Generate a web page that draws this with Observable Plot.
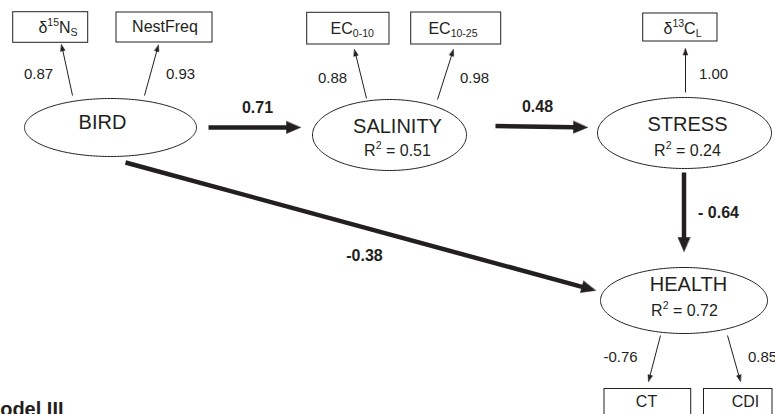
<!DOCTYPE html>
<html><head><meta charset="utf-8">
<script src="https://cdn.jsdelivr.net/npm/d3@7"></script>
<script src="https://cdn.jsdelivr.net/npm/@observablehq/plot@0.6"></script>
<style>
html,body{margin:0;padding:0;background:#fff;}
#chart{width:775px;height:414px;overflow:hidden;}
</style>
</head><body><div id="chart"></div>
<script>
// ---------- DATA ----------
const latentNames = ["BIRD", "SALINITY", "STRESS", "HEALTH"];
const latentR2 = [null, 0.51, 0.24, 0.72];
const indicatorNames = ["δ^{15}N_{S}", "NestFreq", "EC_{0-10}", "EC_{10-25}", "δ^{13}C_{L}", "CT", "CDI"];
const indicatorOf = ["BIRD", "BIRD", "SALINITY", "SALINITY", "STRESS", "HEALTH", "HEALTH"];
const loadings = [0.87, 0.93, 0.88, 0.98, 1.00, -0.76, 0.85];
const pathFrom = ["BIRD", "SALINITY", "STRESS", "BIRD"];
const pathTo = ["SALINITY", "STRESS", "HEALTH", "HEALTH"];
const pathCoef = [0.71, 0.48, -0.64, -0.38];
const pathLabels = ["0.71", "0.48", "- 0.64", "-0.38"];
const modelTitle = "Model III";

// ---------- LAYOUT (diagram positions) ----------
const nodeLayout = {
  BIRD:     {cx: 110,   cy: 127,   rx: 86,   ry: 29,   tx: 102, ty: 122},
  SALINITY: {cx: 389,   cy: 134.5, rx: 77,   ry: 35.5, tx: 397, ty: 126, r2x: 397, r2y: 150},
  STRESS:   {cx: 684,   cy: 132.5, rx: 87,   ry: 35.5, tx: 687, ty: 124, r2x: 687, r2y: 150},
  HEALTH:   {cx: 683.5, cy: 300,   rx: 83.5, ry: 33,   tx: 688, ty: 284, r2x: 684, r2y: 310}
};
const boxLayout = [
  {x1: 12.7, x2: 87.7, y1: 11.7, y2: 42.3, tx: 57.5, ty: 27,  a: [72, 95, 61, 44],    l: [38, 73.5]},
  {x1: 116,  x2: 212,  y1: 12,   y2: 42,   tx: 164.5, ty: 26, a: [144, 95, 158, 44.5], l: [180, 73.5]},
  {x1: 306.7,x2: 389,  y1: 12.3, y2: 44,   tx: 351.7, ty: 28.3, a: [366, 98, 354, 49], l: [332, 78]},
  {x1: 410.7,x2: 500.7,y1: 12,   y2: 44,   tx: 452.5, ty: 28.3, a: [437, 99, 453, 49], l: [474, 78]},
  {x1: 642.7,x2: 717,  y1: 13,   y2: 41,   tx: 682, ty: 28,   a: [685, 92, 685, 48],   l: [713, 74]},
  {x1: 604,  x2: 690.7,y1: 388.5,y2: 440,  tx: 646, ty: 401,  a: [660, 335, 648, 381], l: [620, 357]},
  {x1: 703.5,x2: 772,  y1: 388.5,y2: 440,  tx: 745, ty: 401,  a: [727, 335, 740, 381], l: [762, 357]}
];
const pathLayout = [
  {a: [208, 127, 300, 127],     l: [257, 107]},
  {a: [495, 125.5, 587, 127],   l: [537, 106]},
  {a: [683.5, 172, 683.5, 251], l: [718, 212]},
  {a: [125, 162, 595, 290],     l: [364, 255]}
];
const titleLayout = {x: -17, y: 409};

const INK = "#231f20";
const FONT = "'Liberation Sans', Arial, Helvetica, sans-serif";

// ---------- derived geometry ----------
const ellipsePts = latentNames.flatMap(id => {
  const n = nodeLayout[id];
  return d3.range(0, 360, 2).map(deg => {
    const t = deg * Math.PI / 180;
    return {id, x: n.cx + n.rx * Math.cos(t), y: n.cy + n.ry * Math.sin(t)};
  });
});

function arrowParts(id, [x1, y1, x2, y2], L, W) {
  const dx = x2 - x1, dy = y2 - y1, len = Math.hypot(dx, dy);
  const ux = dx / len, uy = dy / len, nx = -uy, ny = ux;
  const bx = x2 - L * ux, by = y2 - L * uy;
  return {
    shaft: {id, x1, y1, x2: x2 - (L - 1) * ux, y2: y2 - (L - 1) * uy},
    head: [
      {id, x: x2, y: y2},
      {id, x: bx + nx * W / 2, y: by + ny * W / 2},
      {id, x: bx - nx * W / 2, y: by - ny * W / 2}
    ]
  };
}
const thinArrows = indicatorNames.map((d, i) => arrowParts("L" + i, boxLayout[i].a, 6.5, 4.5));
const thickArrows = pathFrom.map((d, i) => arrowParts("P" + i, pathLayout[i].a, 14, 12));

const r2Nodes = latentNames.map((d, i) => ({id: d, r2: latentR2[i]})).filter(d => d.r2 != null);

const plot = Plot.plot({
  width: 775, height: 414,
  margin: 0, marginTop: 0, marginRight: 0, marginBottom: 0, marginLeft: 0,
  x: {domain: [0, 775], range: [0, 775], axis: null},
  y: {domain: [0, 414], range: [0, 414], axis: null},
  style: {fontFamily: FONT, background: "white", color: INK},
  marks: [
    Plot.rect(indicatorNames, {
      x1: (d, i) => boxLayout[i].x1, x2: (d, i) => boxLayout[i].x2,
      y1: (d, i) => boxLayout[i].y1, y2: (d, i) => boxLayout[i].y2,
      fill: "white", stroke: INK, strokeWidth: 1
    }),
    Plot.line(ellipsePts, {x: "x", y: "y", z: "id", curve: "linear-closed", fill: "white", stroke: INK, strokeWidth: 1}),
    Plot.link(thinArrows.map(d => d.shaft), {x1: "x1", y1: "y1", x2: "x2", y2: "y2", stroke: INK, strokeWidth: 1}),
    Plot.line(thinArrows.flatMap(d => d.head), {x: "x", y: "y", z: "id", curve: "linear-closed", fill: INK, stroke: INK, strokeWidth: 0.5}),
    Plot.link(thickArrows.map(d => d.shaft), {x1: "x1", y1: "y1", x2: "x2", y2: "y2", stroke: INK, strokeWidth: 4.5}),
    Plot.line(thickArrows.flatMap(d => d.head), {x: "x", y: "y", z: "id", curve: "linear-closed", fill: INK, stroke: INK, strokeWidth: 0.5}),
    Plot.text(latentNames, {x: d => nodeLayout[d].tx, y: d => nodeLayout[d].ty, text: d => d, fontSize: 20, fill: INK}),
    Plot.text(r2Nodes, {x: d => nodeLayout[d.id].r2x, y: d => nodeLayout[d.id].r2y, text: d => `R^{2} = ${d.r2.toFixed(2)}`, fontSize: 16, fill: INK}),
    Plot.text(indicatorNames, {x: (d, i) => boxLayout[i].tx, y: (d, i) => boxLayout[i].ty, text: d => d, fontSize: 16, fill: INK}),
    Plot.text(loadings, {x: (d, i) => boxLayout[i].l[0], y: (d, i) => boxLayout[i].l[1], text: d => d.toFixed(2), fontSize: 15, fill: INK}),
    Plot.text(pathCoef, {x: (d, i) => pathLayout[i].l[0], y: (d, i) => pathLayout[i].l[1], text: (d, i) => pathLabels[i], fontSize: 16, fontWeight: "bold", fill: INK}),
    Plot.text([modelTitle], {x: () => titleLayout.x, y: () => titleLayout.y, text: d => d, fontSize: 20, fontWeight: "bold", textAnchor: "start", fill: INK})
  ]
});
document.getElementById("chart").appendChild(plot);

// rich text: turn ^{..} and _{..} into real super/subscript tspans
const NS = "http://www.w3.org/2000/svg";
plot.querySelectorAll("text").forEach(t => {
  const s = t.textContent;
  if (!/[_^]\{/.test(s)) return;
  const F = parseFloat(getComputedStyle(t).fontSize) || 16;
  const parts = [];
  const re = /([_^])\{([^}]*)\}|([^_^]+)/g;
  let m;
  while ((m = re.exec(s))) parts.push(m[3] != null ? {k: "", s: m[3]} : {k: m[1], s: m[2]});
  while (t.firstChild) t.removeChild(t.firstChild);
  let shift = 0;
  for (const p of parts) {
    const ts = document.createElementNS(NS, "tspan");
    const target = p.k === "^" ? -0.42 * F : p.k === "_" ? 0.2 * F : 0;
    if (target !== shift) ts.setAttribute("dy", (target - shift) + "px");
    shift = target;
    if (p.k) ts.setAttribute("font-size", (0.66 * F) + "px");
    ts.textContent = p.s;
    t.appendChild(ts);
  }
});
</script>
</body></html>
